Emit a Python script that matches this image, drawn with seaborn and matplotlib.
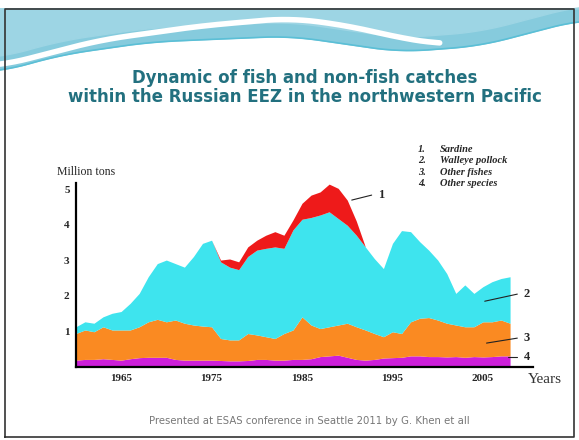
import numpy as np
import matplotlib
matplotlib.use('Agg')
import matplotlib.pyplot as plt
import seaborn as sns

years = list(range(1960, 2009))

other_species = [0.18, 0.20, 0.20, 0.22, 0.20, 0.18, 0.22, 0.25, 0.26, 0.26,
                 0.26, 0.20, 0.18, 0.18, 0.18, 0.18, 0.17, 0.16, 0.16, 0.17,
                 0.20, 0.20, 0.18, 0.18, 0.20, 0.20, 0.22, 0.28, 0.30, 0.32,
                 0.26, 0.20, 0.18, 0.20, 0.24, 0.25, 0.26, 0.30, 0.30, 0.28,
                 0.28, 0.27, 0.28, 0.26, 0.28, 0.27, 0.28, 0.30, 0.30]
other_fishes = [0.75, 0.83, 0.78, 0.90, 0.83, 0.85, 0.81, 0.87, 1.00, 1.07,
                1.00, 1.11, 1.04, 0.99, 0.96, 0.94, 0.62, 0.59, 0.59, 0.76,
                0.69, 0.64, 0.61, 0.75, 0.83, 1.20, 0.95, 0.79, 0.82, 0.85,
                0.96, 0.92, 0.85, 0.73, 0.60, 0.73, 0.67, 0.96, 1.06, 1.10,
                1.03, 0.95, 0.89, 0.86, 0.84, 0.99, 0.98, 1.01, 0.92]
pollock = [0.19, 0.23, 0.24, 0.28, 0.47, 0.52, 0.75, 0.94, 1.27, 1.57,
           1.74, 1.59, 1.58, 1.93, 2.33, 2.44, 2.16, 2.05, 1.98, 2.17,
           2.39, 2.49, 2.58, 2.40, 2.82, 2.75, 3.03, 3.20, 3.24, 3.00,
           2.76, 2.58, 2.34, 2.11, 1.92, 2.49, 2.90, 2.54, 2.16, 1.90,
           1.69, 1.40, 0.89, 1.18, 0.94, 0.99, 1.13, 1.17, 1.31]
sardine = [0, 0, 0, 0, 0, 0, 0, 0, 0, 0,
           0, 0, 0, 0, 0, 0, 0.05, 0.23, 0.22, 0.27,
           0.28, 0.37, 0.43, 0.37, 0.28, 0.45, 0.63, 0.65, 0.78, 0.85,
           0.71, 0.40, 0, 0, 0, 0, 0, 0, 0, 0,
           0, 0, 0, 0, 0, 0, 0, 0, 0]

legend_items = ['Sardine', 'Walleye pollock', 'Other fishes', 'Other species']
colors = ['#cc1fd9', '#fa8a22', '#3ee4ee', '#ee1a1a']


def smooth(v, k=41):
    pad = np.pad(v, k // 2, mode='edge')
    return np.convolve(pad, np.ones(k) / k, mode='valid')


sns.set_style('white')
fig = plt.figure(figsize=(5.79, 4.40), dpi=100)

# slide decoration: header wave and frame
deco = fig.add_axes([0, 0, 1, 1], zorder=-1)
deco.set_xlim(0, 579)
deco.set_ylim(440, 0)
deco.axis('off')
xs = np.linspace(0, 579, 400)
bottom = smooth(np.interp(xs, [0, 60, 150, 290, 400, 480, 579], [72, 55, 42, 36, 52, 46, 20]))
deco.fill_between(xs, 9, bottom, color='#86cbdd')
deco.fill_between(xs, 9, bottom - 14, color='#9dd5e4')
swoosh = smooth(np.interp(xs, [0, 100, 200, 290, 350, 400, 440], [66, 40, 26, 18, 26, 38, 44]))
mask = xs < 440
deco.plot(xs[mask], swoosh[mask], color='white', lw=4, solid_capstyle='round')
deco.plot(xs, bottom, color='#5bbfd6', lw=1.2)
deco.plot([5, 5, 574, 574, 5], [437, 9, 9, 437, 437], color='#333333', lw=1.2)

fig.text(0.527, 0.801, 'Dynamic of fish and non-fish catches\nwithin the Russian EEZ in the northwestern Pacific',
         ha='center', va='center', fontsize=12, fontweight='bold', color='#22707f',
         linespacing=1.1)

for i, name in enumerate(legend_items):
    yy = 0.661 - i * 0.026
    fig.text(0.722, yy, f'{i + 1}.', fontsize=7.5, fontstyle='italic', fontweight='bold',
             family='Liberation Serif', va='center')
    fig.text(0.76, yy, name, fontsize=7.5, fontstyle='italic', fontweight='bold',
             family='Liberation Serif', va='center')

ax = fig.add_axes([0.131, 0.167, 0.789, 0.417])
ax.stackplot(years, other_species, other_fishes, pollock, sardine, colors=colors, lw=0)
ax.set_xlim(1960, 2010.5)
ax.set_ylim(0, 5.17)
sns.despine(ax=ax)
for s in ['left', 'bottom']:
    ax.spines[s].set_linewidth(1.6)
    ax.spines[s].set_color('black')

ax.set_xticks([1965, 1975, 1985, 1995, 2005])
ax.set_xticks(range(1961, 2011), minor=True)
ax.set_yticks([1, 2, 3, 4, 5])
ax.set_yticks([0.5, 1.5, 2.5, 3.5, 4.5], minor=True)
ax.tick_params(axis='x', which='major', direction='inout', length=7, width=1.3, pad=2,
               labelsize=8)
ax.tick_params(axis='x', which='minor', direction='in', length=4, width=1.2)
ax.tick_params(axis='y', which='major', direction='inout', length=7, width=1.3, pad=1,
               labelsize=8)
ax.tick_params(axis='y', which='minor', direction='out', length=4, width=1.2)
for lab in ax.get_xticklabels() + ax.get_yticklabels():
    lab.set_family('Liberation Serif')
    lab.set_fontweight('bold')

fig.text(0.098, 0.608, 'Million tons', fontsize=8.5, family='Liberation Serif', va='center')
fig.text(0.912, 0.137, 'Years', fontsize=11, family='Liberation Serif', color='#333333', va='center')

notes = [('1', 1990.5, 4.69, 1993.4, 4.83),
         ('2', 2005.2, 1.84, 2009.5, 2.04),
         ('3', 2005.4, 0.66, 2009.5, 0.80),
         ('4', 2007.8, 0.27, 2009.5, 0.27)]
for label, x0, y0, x1, y1 in notes:
    ax.plot([x0, x1 - 0.7], [y0, y1], color='#222222', lw=0.8, clip_on=False)
    ax.text(x1, y1, label, fontsize=9, family='Liberation Serif', fontweight='bold',
            va='center', ha='left', clip_on=False)

fig.text(0.535, 0.043, 'Presented at ESAS conference in Seattle 2011 by G. Khen et all',
         ha='center', va='center', fontsize=7.3, color='#777777')

fig.savefig('out.png', dpi=100)
